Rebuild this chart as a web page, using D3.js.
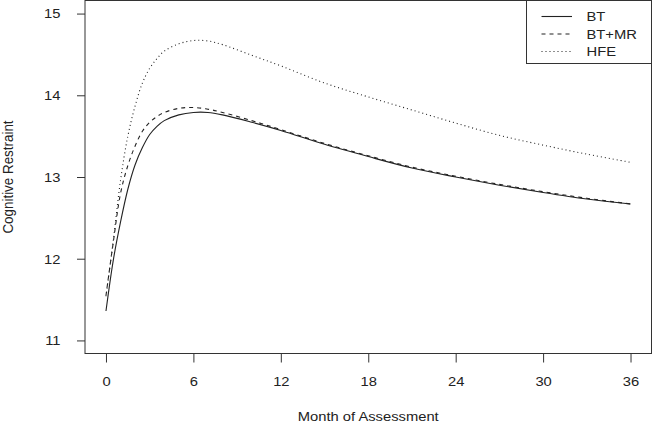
<!DOCTYPE html>
<html>
<head>
<meta charset="utf-8">
<script src="https://cdn.jsdelivr.net/npm/d3@7"></script>
<style>
  html, body { margin: 0; padding: 0; background: #fff; }
  svg { display: block; font-family: "Liberation Sans", Arial, sans-serif; }
</style>
</head>
<body>
<svg id="chart" width="652" height="424"></svg>
<script>
// ---- data ----
const months = [0, 0.5, 1, 1.5, 2, 2.5, 3, 3.5, 4, 5, 6, 7, 8, 10, 12, 15, 18, 21, 24, 27, 30, 33, 36];
const btValues   = [11.36, 11.98, 12.45, 12.85, 13.15, 13.36, 13.52, 13.62, 13.69, 13.76, 13.79, 13.79, 13.76, 13.67, 13.57, 13.40, 13.25, 13.11, 13.00, 12.90, 12.81, 12.73, 12.67];
const btmrValues = [11.55, 12.20, 12.80, 13.14, 13.38, 13.56, 13.67, 13.74, 13.79, 13.84, 13.85, 13.83, 13.79, 13.69, 13.58, 13.41, 13.26, 13.12, 13.01, 12.91, 12.82, 12.74, 12.67];
const hfeValues  = [11.54, 12.22, 12.96, 13.50, 13.87, 14.15, 14.33, 14.45, 14.54, 14.63, 14.67, 14.665, 14.62, 14.49, 14.36, 14.15, 13.98, 13.82, 13.66, 13.51, 13.39, 13.28, 13.18];
const seriesNames = ["BT", "BT+MR", "HFE"];
const xTicks = [0, 6, 12, 18, 24, 30, 36];
const yTicks = [11, 12, 13, 14, 15];
const xTitle = "Month of Assessment";
const yTitle = "Cognitive Restraint";

const series = [
  { name: seriesNames[0], values: btValues,   dash: null },
  { name: seriesNames[1], values: btmrValues, dash: "4,4" },
  { name: seriesNames[2], values: hfeValues,  dash: "1,3" }
];

// ---- layout ----
const svg = d3.select("#chart");
const plot = { left: 85, right: 651.5, top: 0.5, bottom: 353.5 };
const FS = 13.4;      // font size (vertical extent)
const SX = 1.1;       // horizontal stretch of text in the reference

// R-style 4% padding on xlim = [0,36], ylim = [11,15]
const xPad = 36 * 0.04, yPad = 4 * 0.04;
const x = d3.scaleLinear().domain([0 - xPad, 36 + xPad]).range([plot.left, plot.right]);
const y = d3.scaleLinear().domain([11 - yPad, 15 + yPad]).range([plot.bottom, plot.top]);

const ink = "#333";
const txt = "#222";

// plot box
svg.append("rect")
  .attr("x", plot.left).attr("y", plot.top)
  .attr("width", plot.right - plot.left).attr("height", plot.bottom - plot.top)
  .attr("fill", "none").attr("stroke", ink).attr("stroke-width", 1);

// x axis
const xAxis = d3.axisBottom(x).tickValues(xTicks).tickSize(9).tickPadding(14).tickFormat(d3.format("d"));
const gx = svg.append("g").attr("transform", `translate(0,${plot.bottom})`).call(xAxis);
gx.select(".domain").remove();
gx.selectAll(".tick line").attr("stroke", ink);
gx.selectAll(".tick text")
  .attr("fill", txt)
  .attr("transform", `scale(${SX},1)`)
  .style("font-size", FS + "px")
  .style("font-family", "Liberation Sans, Arial, sans-serif");

// y axis
const yAxis = d3.axisLeft(y).tickValues(yTicks).tickSize(8).tickPadding(0).tickFormat(d3.format("d"));
const gy = svg.append("g").attr("transform", `translate(${plot.left},0)`).call(yAxis);
gy.select(".domain").remove();
gy.selectAll(".tick line").attr("stroke", ink);
gy.selectAll(".tick text")
  .attr("fill", txt)
  .attr("x", -24.5 / SX)
  .attr("transform", `scale(${SX},1)`)
  .style("font-size", FS + "px")
  .style("font-family", "Liberation Sans, Arial, sans-serif");

// axis titles
svg.append("text")
  .attr("transform", `translate(${(plot.left + plot.right) / 2},421) scale(${SX},1)`)
  .attr("text-anchor", "middle").attr("fill", txt)
  .style("font-size", FS + "px").text(xTitle);

svg.append("text")
  .attr("transform", `translate(13,${(plot.top + plot.bottom) / 2}) rotate(-90) scale(1,${SX})`)
  .attr("text-anchor", "middle").attr("fill", txt)
  .style("font-size", FS + "px").text(yTitle);

// lines
const line = d3.line()
  .x((d, i) => x(months[i]))
  .y(d => y(d))
  .curve(d3.curveCatmullRom.alpha(0.5));

series.forEach(s => {
  svg.append("path")
    .datum(s.values)
    .attr("d", line)
    .attr("fill", "none")
    .attr("stroke", "#222")
    .attr("stroke-width", 1.1)
    .attr("stroke-dasharray", s.dash);
});

// legend
const legend = { left: 526.5, top: 0.5, right: 651.5, bottom: 63.5 };
svg.append("rect")
  .attr("x", legend.left).attr("y", legend.top)
  .attr("width", legend.right - legend.left).attr("height", legend.bottom - legend.top)
  .attr("fill", "#fff").attr("stroke", ink).attr("stroke-width", 1);

const legendY = [16.5, 34, 51.5];
series.forEach((s, i) => {
  svg.append("line")
    .attr("x1", 541.5).attr("x2", 572)
    .attr("y1", legendY[i]).attr("y2", legendY[i])
    .attr("stroke", "#222").attr("stroke-width", 1.1)
    .attr("stroke-dasharray", s.dash);
  svg.append("text")
    .attr("transform", `translate(586.5,${legendY[i]}) scale(${SX},1)`)
    .attr("dy", "0.36em").attr("fill", txt)
    .style("font-size", FS + "px").text(s.name);
});
</script>
</body>
</html>
